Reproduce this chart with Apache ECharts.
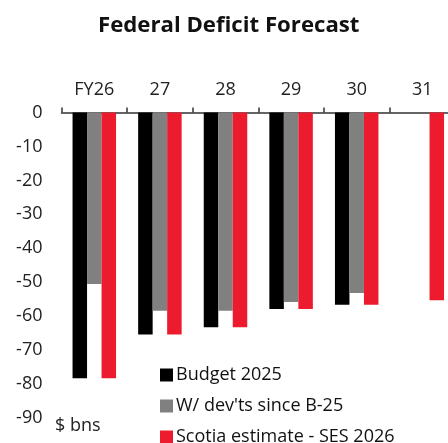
<!DOCTYPE html>
<html>
<head>
<meta charset="utf-8">
<script src="https://cdn.jsdelivr.net/npm/echarts@6/dist/echarts.min.js"></script>
<style>
  html, body { margin: 0; padding: 0; background: #fff; }
  #chart { width: 448px; height: 443px; }
</style>
</head>
<body>
<div id="chart"></div>
<script>
// Fiscal years shown along the top axis
const years = ['FY26', '27', '28', '29', '30', '31'];

// Federal deficit, $ billions
const budget2025 = [-78.3, -65.4, -63.3, -57.9, -56.6, null];
const withDevelopments = [-50.5, -58.4, -58.4, -55.8, -53.2, null];
const scotiaEstimate = [-78.3, -65.4, -63.3, -57.9, -56.6, -55.3];

const seriesNames = ['Budget 2025', "W/ dev'ts since B-25", 'Scotia estimate - SES 2026'];
const seriesColors = ['#000000', '#808080', '#EC1C2E'];

const FONT = '"Open Sans", "Noto Sans", sans-serif';

const chart = echarts.init(document.getElementById('chart'));

function bar(name, data, color) {
  return {
    name: name,
    type: 'bar',
    data: data,
    barWidth: 14.5,
    barGap: '0%',
    itemStyle: { color: color },
    emphasis: { disabled: true }
  };
}

// One legend block per series, stacked vertically
const legends = seriesNames.map(function (name, i) {
  return {
    orient: 'vertical',
    left: 155,
    top: 361 + i * 31,
    itemWidth: 13,
    itemHeight: 13,
    icon: 'rect',
    data: [name],
    textStyle: { fontFamily: FONT, fontSize: 18, color: '#111', padding: [0, 0, 0, -2] },
    selectedMode: false
  };
});

chart.setOption({
  animation: false,
  backgroundColor: '#ffffff',
  title: {
    text: 'Federal Deficit Forecast',
    left: 93,
    top: 10,
    textStyle: { fontFamily: FONT, fontWeight: 'bold', fontSize: 22.2, color: '#111' }
  },
  // the last year runs past the right edge of the canvas
  grid: {
    left: 61.5, top: 112.5, width: 393.6, bottom: 25,
    containLabel: false, outerBoundsMode: 'none'
  },
  xAxis: {
    type: 'category',
    position: 'top',
    data: years,
    axisLine: { show: true, lineStyle: { color: '#333', width: 1.5 } },
    axisTick: { show: true, length: 5, lineStyle: { color: '#333', width: 1.5 } },
    axisLabel: { fontFamily: FONT, fontSize: 18, color: '#222', margin: 14 },
    splitLine: { show: false }
  },
  yAxis: {
    type: 'value',
    min: -90,
    max: 0,
    interval: 10,
    axisLine: { show: false },
    axisTick: { show: false },
    splitLine: { show: false },
    axisLabel: { fontFamily: FONT, fontSize: 18, color: '#222', margin: 19 }
  },
  legend: legends,
  graphic: [{
    type: 'text',
    left: 55,
    top: 417,
    style: { text: '$ bns', fontFamily: FONT, fontSize: 18, fill: '#222' }
  }],
  series: [
    bar(seriesNames[0], budget2025, seriesColors[0]),
    bar(seriesNames[1], withDevelopments, seriesColors[1]),
    bar(seriesNames[2], scotiaEstimate, seriesColors[2])
  ]
});
</script>
</body>
</html>
